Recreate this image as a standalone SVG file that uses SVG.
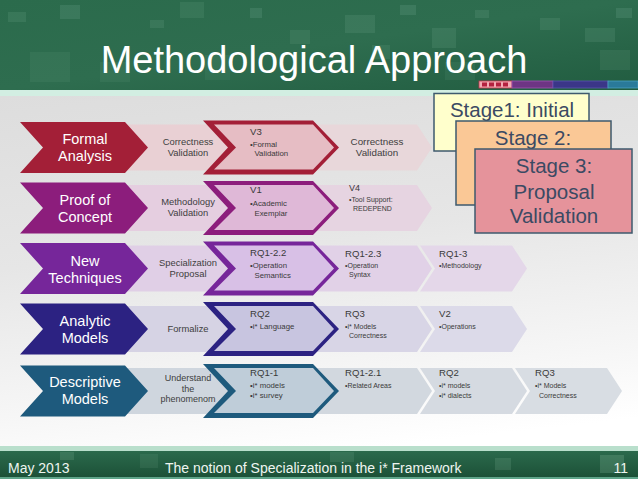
<svg xmlns="http://www.w3.org/2000/svg" width="638" height="479" viewBox="0 0 638 479">
<defs>
<linearGradient id="bodyBg" x1="0" y1="0" x2="0.15" y2="1">
<stop offset="0" stop-color="#d8d8d8"/>
<stop offset="0.55" stop-color="#e6e6e6"/>
<stop offset="0.85" stop-color="#f6f6f6"/>
<stop offset="1" stop-color="#ffffff"/>
</linearGradient>
<linearGradient id="headBg" x1="0" y1="0" x2="1" y2="1">
<stop offset="0" stop-color="#2b6b4c"/>
<stop offset="0.5" stop-color="#2e6d4f"/>
<stop offset="1" stop-color="#215c40"/>
</linearGradient>
<linearGradient id="footBg" x1="0" y1="0" x2="0" y2="1">
<stop offset="0" stop-color="#2b6a4c"/>
<stop offset="1" stop-color="#1b4f36"/>
</linearGradient>
<path id="pMain" d="M20,-25.5 H125 L148,0 L125,25.5 H20 L43,0 Z"/>
<path id="pC2" d="M110,-23 H222 L237,0 L222,23 H110 L125,0 Z"/>
<path id="pDOut" d="M203,-27 H313 L339,0 L313,27 H203 L228,0 Z"/>
<path id="pDIn" d="M214,-23 H313 L334,0 L313,22 H214 L236,0 Z"/>
<path id="pC4" d="M315,-23 H417 L432,0 L417,23 H315 L330,0 Z"/>
<path id="pC5" d="M420,-23 H512 L527,0 L512,23 H420 L435,0 Z"/>
<path id="pC6" d="M515,-23 H607 L622,0 L607,23 H515 L530,0 Z"/>
</defs>
<style>
text{font-family:"Liberation Sans",Arial,sans-serif}
.title{font-size:38px;fill:#ffffff;text-anchor:middle}
.main{font-size:14.5px;fill:#ffffff;text-anchor:middle}
.sub{font-size:9.4px;fill:#404040;text-anchor:middle}
.hd{font-size:9.6px;fill:#3a3a3a}
.bd{font-size:7.8px;fill:#3a3a3a}
.bs{font-size:7px;fill:#3a3a3a}
.stage{font-size:20.5px;fill:#3b4a63;text-anchor:middle}
.sbox{stroke:#3e5a6e;stroke-width:1.5}
.foot{font-size:14px;fill:#eef5f0}
.tex{fill:#9fd0b5}
</style>

<!-- background -->
<rect x="0" y="0" width="638" height="479" fill="url(#bodyBg)"/>

<!-- header -->
<g id="header">
<rect x="0" y="0" width="638" height="90" fill="url(#headBg)"/>
<rect class="tex" x="8" y="12" width="18" height="10" opacity="0.12"/>
<rect class="tex" x="60" y="5" width="20" height="14" opacity="0.14"/>
<rect class="tex" x="150" y="20" width="14" height="8" opacity="0.12"/>
<rect class="tex" x="180" y="2" width="24" height="16" opacity="0.1"/>
<rect class="tex" x="250" y="8" width="12" height="10" opacity="0.14"/>
<rect class="tex" x="290" y="30" width="20" height="14" opacity="0.1"/>
<rect class="tex" x="345" y="15" width="30" height="18" opacity="0.12"/>
<rect class="tex" x="372" y="45" width="18" height="14" opacity="0.1"/>
<rect class="tex" x="400" y="5" width="16" height="10" opacity="0.14"/>
<rect class="tex" x="432" y="28" width="24" height="20" opacity="0.12"/>
<rect class="tex" x="475" y="10" width="14" height="8" opacity="0.12"/>
<rect class="tex" x="540" y="18" width="20" height="12" opacity="0.12"/>
<rect class="tex" x="585" y="28" width="30" height="14" opacity="0.12"/>
<rect class="tex" x="616" y="8" width="16" height="10" opacity="0.14"/>
<rect class="tex" x="30" y="52" width="40" height="30" opacity="0.08"/>
<rect class="tex" x="100" y="62" width="30" height="20" opacity="0.08"/>
<rect class="tex" x="205" y="55" width="25" height="25" opacity="0.07"/>
<rect class="tex" x="445" y="62" width="30" height="18" opacity="0.08"/>
<rect class="tex" x="600" y="50" width="30" height="20" opacity="0.1"/>
<rect x="0" y="90" width="638" height="6" fill="#d2eee2"/>
<rect x="479" y="81" width="33" height="7" fill="#f2a9b3" stroke="#c0354a" stroke-width="0.8"/>
<rect x="482" y="82.5" width="5" height="4" fill="#b3213f"/>
<rect x="489" y="82.5" width="5" height="4" fill="#b3213f"/>
<rect x="496" y="82.5" width="5" height="4" fill="#b3213f"/>
<rect x="503" y="82.5" width="5" height="4" fill="#b3213f"/>
<rect x="512" y="81" width="41" height="7" fill="#6e3584" stroke="#a055b5" stroke-width="0.8"/>
<rect x="553" y="81" width="55" height="7" fill="#3b3688" stroke="#5a55b0" stroke-width="0.8"/>
<rect x="608" y="81" width="30" height="7" fill="#2a7a9a" stroke="#4aa0c0" stroke-width="0.8"/>
<text class="title" x="314" y="73">Methodological Approach</text>
</g>

<!-- row 1 -->
<g id="row1" transform="translate(0,147.5)">
<use href="#pC2" fill="#e9d0d4"/>
<use href="#pC4" fill="#e8d7da"/>
<g id="formal-analysis"><use href="#pMain" fill="#a31f37"/></g>
<g id="v3"><use href="#pDOut" fill="#a31f37"/><use href="#pDIn" fill="#e6bdc4"/></g>
</g>
<g id="row1-text">
<text class="main" x="85" y="144">Formal</text>
<text class="main" x="85" y="161">Analysis</text>
<text class="sub" x="188" y="144.5">Correctness</text>
<text class="sub" x="188" y="155.5">Validation</text>
<text class="hd" x="250" y="135">V3</text>
<text class="bd" x="250" y="147">•Formal</text>
<text class="bd" x="254.5" y="156">Validation</text>
<text class="sub" x="377" y="144.5" style="font-size:9.8px">Correctness</text>
<text class="sub" x="377" y="155.5" style="font-size:9.8px">Validation</text>
</g>

<!-- row 2 -->
<g id="row2" transform="translate(0,208)">
<use href="#pC2" fill="#e5cee0"/>
<use href="#pC4" fill="#e6d4e1"/>
<g id="proof-of-concept"><use href="#pMain" fill="#8c1d7c"/></g>
<g id="v1"><use href="#pDOut" fill="#8c1d7c"/><use href="#pDIn" fill="#dfb8d7"/></g>
</g>
<g id="row2-text">
<text class="main" x="85" y="205">Proof of</text>
<text class="main" x="85" y="222">Concept</text>
<text class="sub" x="188" y="205">Methodology</text>
<text class="sub" x="188" y="216">Validation</text>
<text class="hd" x="250" y="193">V1</text>
<text class="bd" x="250" y="206">•Academic</text>
<text class="bd" x="254.5" y="216">Exemplar</text>
<text class="hd" x="349" y="191" style="font-size:9px">V4</text>
<text class="bs" x="349" y="202">•Tool Support:</text>
<text class="bs" x="353" y="211">REDEPEND</text>
</g>

<!-- row 3 -->
<g id="row3" transform="translate(0,268.5)">
<use href="#pC2" fill="#e0cfe6"/>
<use href="#pC4" fill="#e1d1e7"/>
<use href="#pC5" fill="#e4d7e9"/>
<g id="new-techniques"><use href="#pMain" fill="#76269a"/></g>
<g id="rq1-2-2"><use href="#pDOut" fill="#76269a"/><use href="#pDIn" fill="#d8c0e6"/></g>
</g>
<g id="row3-text">
<text class="main" x="85" y="266">New</text>
<text class="main" x="85" y="283">Techniques</text>
<text class="sub" x="188" y="266">Specialization</text>
<text class="sub" x="188" y="277">Proposal</text>
<text class="hd" x="250" y="256">RQ1-2.2</text>
<text class="bd" x="250" y="268">•Operation</text>
<text class="bd" x="254.5" y="278">Semantics</text>
<text class="hd" x="345" y="257">RQ1-2.3</text>
<text class="bs" x="345" y="268">•Operation</text>
<text class="bs" x="349" y="277">Syntax</text>
<text class="hd" x="439" y="257">RQ1-3</text>
<text class="bs" x="439" y="268">•Methodology</text>
</g>

<!-- row 4 -->
<g id="row4" transform="translate(0,329)">
<use href="#pC2" fill="#d6d3e4"/>
<use href="#pC4" fill="#d8d5e6"/>
<use href="#pC5" fill="#dcdae9"/>
<g id="analytic-models"><use href="#pMain" fill="#2c2282"/></g>
<g id="rq2-a"><use href="#pDOut" fill="#2c2282"/><use href="#pDIn" fill="#c8c5e0"/></g>
</g>
<g id="row4-text">
<text class="main" x="85" y="326">Analytic</text>
<text class="main" x="85" y="343">Models</text>
<text class="sub" x="188" y="332">Formalize</text>
<text class="hd" x="250" y="317">RQ2</text>
<text class="bd" x="250" y="329">•i* Language</text>
<text class="hd" x="345" y="317">RQ3</text>
<text class="bs" x="345" y="329">•i* Models</text>
<text class="bs" x="349" y="338">Correctness</text>
<text class="hd" x="439" y="317">V2</text>
<text class="bs" x="439" y="329">•Operations</text>
</g>

<!-- row 5 -->
<g id="row5" transform="translate(0,391)">
<use href="#pC2" fill="#cfd6de"/>
<use href="#pC4" fill="#d2d8df"/>
<use href="#pC5" fill="#d5dae1"/>
<use href="#pC6" fill="#d8dde3"/>
<g id="descriptive-models"><use href="#pMain" fill="#1e5a7d"/></g>
<g id="rq1-1"><use href="#pDOut" fill="#1e5a7d"/><use href="#pDIn" fill="#bfcdd9"/></g>
</g>
<g id="row5-text">
<text class="main" x="85" y="387">Descriptive</text>
<text class="main" x="85" y="404">Models</text>
<text class="sub" x="188" y="381" style="font-size:9px">Understand</text>
<text class="sub" x="188" y="391.5" style="font-size:9px">the</text>
<text class="sub" x="188" y="402" style="font-size:9px">phenomenom</text>
<text class="hd" x="250" y="376">RQ1-1</text>
<text class="bd" x="250" y="388">•i* models</text>
<text class="bd" x="250" y="398">•i* survey</text>
<text class="hd" x="345" y="376">RQ1-2.1</text>
<text class="bs" x="345" y="388">•Related Areas</text>
<text class="hd" x="439" y="376">RQ2</text>
<text class="bs" x="439" y="388">•i* models</text>
<text class="bs" x="439" y="398">•i* dialects</text>
<text class="hd" x="535" y="376">RQ3</text>
<text class="bs" x="535" y="388">•i* Models</text>
<text class="bs" x="539" y="398">Correctness</text>
</g>

<g id="connectors"></g>

<!-- stage boxes -->
<g id="stage1">
<rect class="sbox" x="434" y="93.5" width="155" height="57.5" fill="#ffffcc"/>
<text class="stage" x="512" y="117">Stage1: Initial</text>
</g>
<g id="stage2">
<rect class="sbox" x="456" y="121" width="155" height="84" fill="#fac896"/>
<text class="stage" x="533" y="145">Stage 2:</text>
</g>
<g id="stage3">
<rect class="sbox" x="475" y="149" width="157" height="84" fill="#e5939b"/>
<text class="stage" x="554" y="173">Stage 3:</text>
<text class="stage" x="554" y="199">Proposal</text>
<text class="stage" x="554" y="223">Validation</text>
</g>

<!-- footer -->
<g id="footer">
<rect x="0" y="446" width="638" height="5" fill="#b9dfcc"/>
<rect x="0" y="451" width="638" height="28" fill="url(#footBg)"/>
<rect class="tex" x="60" y="452" width="14" height="8" opacity="0.15"/>
<rect class="tex" x="140" y="454" width="18" height="14" opacity="0.1"/>
<rect class="tex" x="330" y="452" width="24" height="10" opacity="0.12"/>
<rect class="tex" x="495" y="458" width="16" height="12" opacity="0.15"/>
<rect class="tex" x="600" y="455" width="24" height="18" opacity="0.2"/>
<rect x="0" y="477" width="638" height="2" fill="#5fa58a"/>
<text class="foot" x="8" y="473">May 2013</text>
<text class="foot" x="165" y="473">The notion of Specialization in the i* Framework</text>
<text class="foot" x="628" y="473" text-anchor="end">11</text>
</g>
</svg>
